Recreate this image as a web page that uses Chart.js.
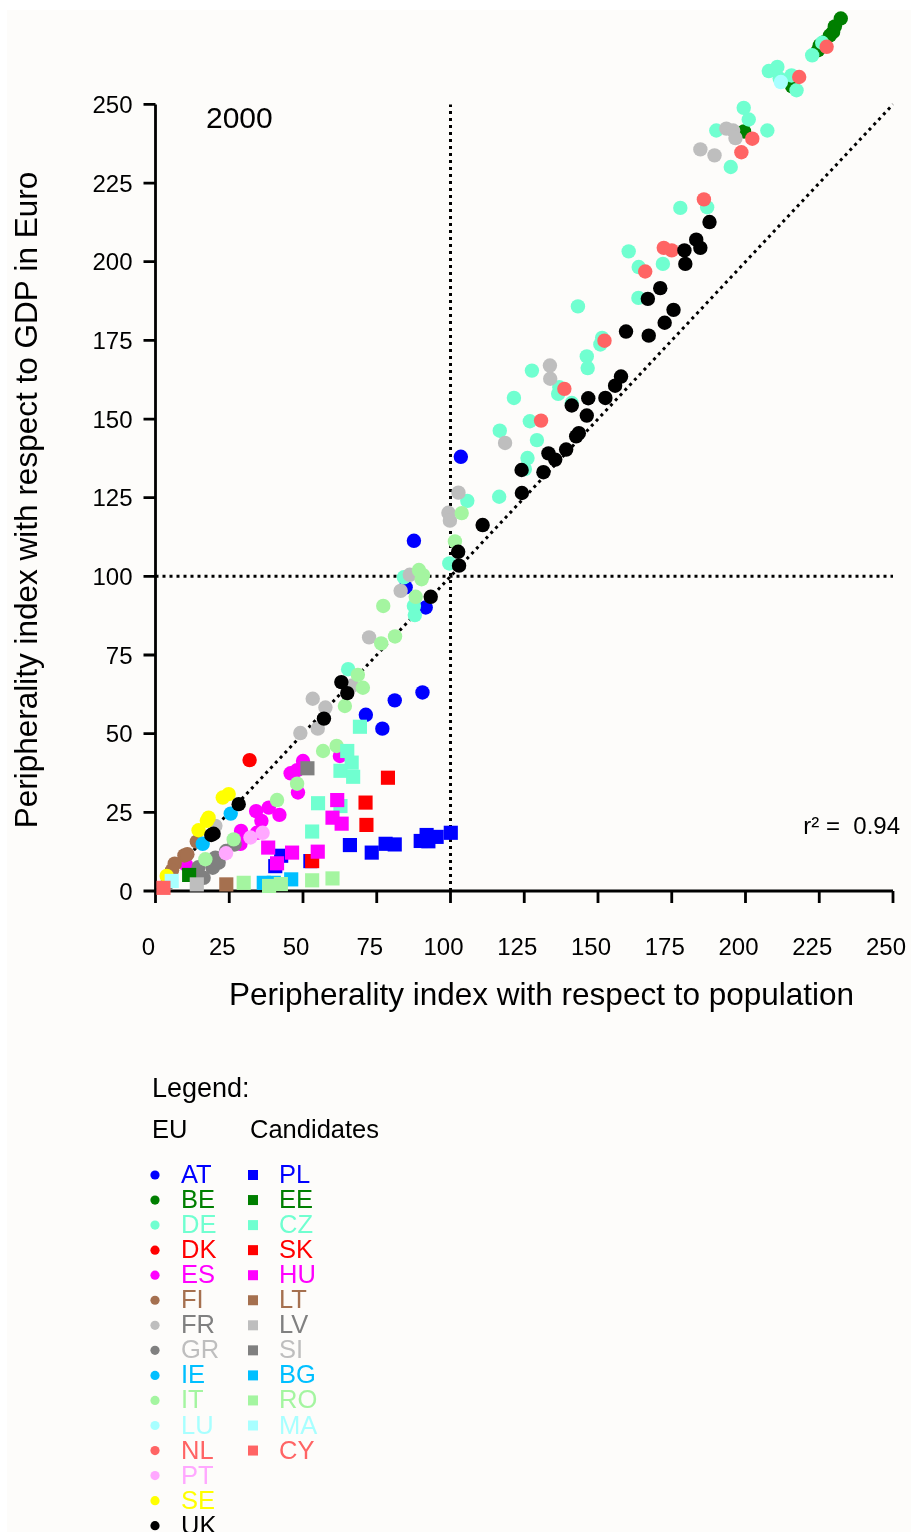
<!DOCTYPE html>
<html>
<head>
<meta charset="utf-8">
<script src="https://cdn.jsdelivr.net/npm/chart.js@4.4.0/dist/chart.umd.min.js"></script>
<style>
  html, body { margin: 0; padding: 0; background: #fff; }
  #wrap { position: absolute; left: 0; top: 0; width: 911px; height: 1532px; }
</style>
</head>
<body>
<div id="wrap"><canvas id="myChart" width="911" height="1532"></canvas></div>
<script>

// peripherality index: [population based, GDP based]
const AT = [[103.5,138.0],[87.6,111.3],[84.8,96.5],[91.6,90.1],[90.5,63.1],[81.1,60.6],[71.3,56.0],[76.9,51.6]];
const BE = [[232.3,277.3],[230.3,274.8],[229.7,273.0],[228.6,271.9],[226.7,269.8],[225.2,268.8],[224.6,267.2],[215.8,255.7],[199.5,241.4]];
const DE = [[99.6,104.1],[105.7,124.0],[84.2,99.7],[87.6,90.6],[87.9,87.7],[65.3,70.5],[116.5,125.3],[125.2,134.1],[126.1,137.6],[129.3,143.3],
  [116.7,146.3],[126.9,149.3],[141.1,155.1],[121.5,156.7],[136.5,158.0],[136.9,160.1],[127.6,165.4],[146.5,166.2],[146.2,169.9],[150.8,173.7],
  [151.4,175.8],[143.2,185.8],[163.7,188.5],[163.8,198.3],[172.0,199.3],[160.4,203.3],[177.9,217.1],[187.0,217.3],[195.0,230.1],[190.1,241.7],
  [207.4,241.7],[201.1,245.2],[199.4,248.9],[217.3,254.5],[211.6,258.2],[215.6,259.2],[207.9,260.6],[210.8,261.9],[222.6,265.6],[226.0,269.6]];
const DK = [[31.9,41.6]];
const ES = [[62.5,42.9],[50.0,41.3],[48.0,38.4],[45.8,37.4],[48.3,31.3],[42.0,24.2],[38.4,26.5],[35.9,22.3],[34.1,25.4],[34.4,18.5],
  [29.0,19.1],[28.8,15.0],[10.3,8.4]];
const FI = [[14.0,15.7],[9.8,11.3],[10.8,11.7],[6.5,8.7],[5.6,6.6]];
const FR = [[53.3,61.1],[57.6,58.3],[49.1,50.2],[55.0,51.6],[66.7,65.3],[20.3,20.7],[72.4,80.6],[83.1,95.4],[86.2,100.5],[99.3,120.2],
  [99.8,117.7],[102.7,126.6],[118.5,142.4],[133.8,162.8],[133.7,167.0],[184.7,235.7],[189.5,233.8],[193.5,242.3],[195.8,241.7],[196.6,239.3]];
const GR = [[26.8,14.8],[23.9,12.7],[20.3,10.6],[21.4,9.0],[19.4,7.4],[14.6,7.6],[14.0,5.8],[16.3,4.2],[3.8,2.1]];
const IE = [[25.5,24.6],[16.0,15.0]];
const IT = [[103.8,120.1],[101.5,111.1],[89.3,102.0],[90.7,100.4],[90.2,99.1],[88.2,93.5],[77.2,90.6],[81.2,80.9],[76.5,78.7],[68.6,68.7],
  [70.3,64.6],[64.2,58.8],[61.4,46.1],[56.8,44.5],[48.0,34.1],[41.2,28.9],[26.5,16.4],[16.9,10.1]];
const LU = [[212.0,257.1]];
const NL = [[130.7,149.5],[138.6,159.6],[152.2,174.9],[166.0,196.9],[172.3,204.4],[175.0,203.6],[185.9,219.8],[198.6,234.8],[202.3,239.1],
  [218.2,258.7],[227.5,268.3]];
const PT = [[32.2,17.0],[36.3,18.5],[23.9,12.0]];
const SE = [[24.8,30.8],[22.8,29.7],[18.0,23.3],[17.4,22.3],[14.6,19.3],[3.8,4.8]];
const UK = [[19.7,18.2],[18.9,17.8],[28.2,27.6],[57.1,54.8],[65.0,62.9],[63.0,66.4],[93.3,93.5],[102.9,103.4],[102.6,107.8],[110.9,116.3],
  [124.2,126.5],[131.5,133.1],[124.1,133.8],[135.5,137.1],[133.2,139.1],[139.2,140.3],[142.6,144.5],[143.5,145.5],[146.2,151.1],[141.1,154.3],
  [146.7,156.6],[152.5,156.7],[155.8,160.6],[157.8,163.5],[167.2,176.5],[159.5,177.8],[172.6,180.6],[175.6,184.7],[166.9,188.2],[171.1,191.6],
  [179.6,199.3],[179.3,203.6],[184.7,204.4],[183.3,207.0],[187.8,212.6]];

const PL = [[42.6,11.2],[40.6,7.9],[52.5,9.5],[65.9,14.6],[73.3,12.2],[78.0,15.0],[81.1,14.8],[89.9,15.9],[91.9,17.8],[92.5,15.8],
  [95.3,17.2],[100.1,18.5]];
const EE = [[11.4,5.1]];
const CZ = [[69.3,52.2],[65.0,44.5],[66.5,40.8],[62.7,38.2],[67.0,36.3],[62.7,27.0],[55.1,27.9],[53.1,18.9]];
const SK = [[78.8,36.0],[71.2,28.1],[71.5,21.0],[53.1,9.5]];
const HU = [[61.6,28.9],[60.0,23.3],[63.1,21.4],[38.2,13.8],[46.3,12.2],[55.0,12.5],[41.2,8.8]];
const LT = [[24.0,2.1]];
const LV = [[14.0,2.1]];
const SI = [[51.5,39.0]];
const BG = [[36.7,2.6],[40.1,2.6],[46.0,3.7]];
const RO = [[29.9,2.6],[38.5,1.6],[42.5,2.2],[53.1,3.4],[60.0,4.0]];
const MA = [[5.5,3.2]];
const CY = [[2.7,1.0]];

const euNames = ['AT','BE','DE','DK','ES','FI','FR','GR','IE','IT','LU','NL','PT','SE','UK'];
const euValues = [AT,BE,DE,DK,ES,FI,FR,GR,IE,IT,LU,NL,PT,SE,UK];
const euColours = ['#0000ff','#007f00','#70ffd0','#ff0000','#ff00ff','#a5704f','#bebebe','#808080','#00bfff','#a4f5a0','#a8ffff','#ff6464','#ffa8ff','#ffff00','#000000'];
const euTextColours = ['#0000ff','#007f00','#70ffd0','#ff0000','#ff00ff','#a5704f','#808080','#bebebe','#00bfff','#a4f5a0','#a8ffff','#ff6464','#ffa8ff','#ffff00','#000000'];

const candNames = ['PL','EE','CZ','SK','HU','LT','LV','SI','BG','RO','MA','CY'];
const candValues = [PL,EE,CZ,SK,HU,LT,LV,SI,BG,RO,MA,CY];
const candColours = ['#0000ff','#007f00','#70ffd0','#ff0000','#ff00ff','#a5704f','#bebebe','#808080','#00bfff','#a4f5a0','#a8ffff','#ff6464'];
const candTextColours = ['#0000ff','#007f00','#70ffd0','#ff0000','#ff00ff','#a5704f','#808080','#bebebe','#00bfff','#a4f5a0','#a8ffff','#ff6464'];

const xTicks = [0,25,50,75,100,125,150,175,200,225,250];
const yTicks = [0,25,50,75,100,125,150,175,200,225,250];

const FONT = '"Liberation Sans", Arial, sans-serif';

let datasets = [];
euNames.forEach(function (n, i) {
  datasets.push({
    label: n,
    data: euValues[i].map(function (p) { return { x: p[0], y: p[1] }; }),
    backgroundColor: euColours[i],
    pointStyle: 'circle',
    pointRadius: 7.2,
    borderWidth: 0,
    clip: false
  });
});
candNames.forEach(function (n, i) {
  datasets.push({
    label: n,
    data: candValues[i].map(function (p) { return { x: p[0], y: p[1] }; }),
    backgroundColor: candColours[i],
    pointStyle: 'rect',
    pointRadius: 10,
    borderWidth: 0,
    clip: false
  });
});
// later series sit on top
datasets.forEach(function (d, i) { d.order = datasets.length - i; });

const frame = {
  id: 'frame',
  beforeDraw(chart) {
    const ctx = chart.ctx;
    ctx.save();
    ctx.fillStyle = '#ffffff';
    ctx.fillRect(0, 0, chart.width, chart.height);
    ctx.fillStyle = '#fdfcfa';
    ctx.fillRect(7, 10, chart.width - 7, chart.height - 10);
    ctx.restore();
  },
  beforeDatasetsDraw(chart) {
    const ctx = chart.ctx;
    const x = chart.scales.x, y = chart.scales.y;
    const x0 = x.getPixelForValue(0), x1 = x.getPixelForValue(250), x100 = x.getPixelForValue(100);
    const y0 = y.getPixelForValue(0), y1 = y.getPixelForValue(250), y100 = y.getPixelForValue(100);
    ctx.save();
    ctx.strokeStyle = '#000';

    // dotted guides: y = x, x = 100, y = 100
    ctx.lineWidth = 3;
    ctx.setLineDash([3, 4]);
    ctx.beginPath();
    ctx.moveTo(x0, y0); ctx.lineTo(x1, y1);
    ctx.moveTo(x100, y0); ctx.lineTo(x100, y1);
    ctx.moveTo(x0, y100); ctx.lineTo(x1, y100);
    ctx.stroke();
    ctx.setLineDash([]);

    // axes with outward ticks
    ctx.lineWidth = 2.8;
    ctx.beginPath();
    ctx.moveTo(x0, y1); ctx.lineTo(x0, y0);
    ctx.moveTo(x0, y0); ctx.lineTo(x1, y0);
    yTicks.forEach(function (t) {
      const py = y.getPixelForValue(t);
      ctx.moveTo(x0 - 12, py); ctx.lineTo(x0, py);
    });
    xTicks.forEach(function (t) {
      const px = x.getPixelForValue(t);
      ctx.moveTo(px, y0); ctx.lineTo(px, y0 + 12);
    });
    ctx.stroke();

    ctx.fillStyle = '#000';
    ctx.font = '24px ' + FONT;
    ctx.textBaseline = 'middle';
    ctx.textAlign = 'right';
    yTicks.forEach(function (t) {
      ctx.fillText(String(t), x0 - 23, y.getPixelForValue(t) + 2);
    });
    ctx.textAlign = 'center';
    xTicks.forEach(function (t) {
      ctx.fillText(String(t), x.getPixelForValue(t) - 7, y0 + 57);
    });

    // titles
    ctx.font = '31.5px ' + FONT;
    ctx.fillText('Peripherality index with respect to population', 541.5, y0 + 105);
    ctx.save();
    ctx.translate(28, 500);
    ctx.rotate(-Math.PI / 2);
    ctx.fillText('Peripherality index with respect to GDP in Euro', 0, 0);
    ctx.restore();

    ctx.font = '30px ' + FONT;
    ctx.textAlign = 'left';
    ctx.fillText('2000', 206, 120);
    ctx.font = '24px ' + FONT;
    ctx.textAlign = 'right';
    ctx.fillText('r\u00b2 =  0.94', 900, 827);
    ctx.restore();
  },
  afterDraw(chart) {
    const ctx = chart.ctx;
    ctx.save();
    ctx.textBaseline = 'middle';
    ctx.textAlign = 'left';
    ctx.fillStyle = '#000';
    ctx.font = '27px ' + FONT;
    ctx.fillText('Legend:', 152, 1090);
    ctx.font = '25.5px ' + FONT;
    ctx.fillText('EU', 152, 1131);
    ctx.fillText('Candidates', 250, 1131);

    const top = 1175, step = 25.05;
    euNames.forEach(function (n, i) {
      const cy = top + i * step;
      ctx.fillStyle = euColours[i];
      ctx.beginPath();
      ctx.arc(155, cy, 4.6, 0, Math.PI * 2);
      ctx.fill();
      ctx.fillStyle = euTextColours[i];
      ctx.fillText(n, 181, cy + 1);
    });
    candNames.forEach(function (n, i) {
      const cy = top + i * step;
      ctx.fillStyle = candColours[i];
      ctx.fillRect(248, cy - 5, 10, 10);
      ctx.fillStyle = candTextColours[i];
      ctx.fillText(n, 279, cy + 1);
    });
    ctx.restore();
  }
};

let myChart = document.getElementById('myChart').getContext('2d');

let periChart = new Chart(myChart, {
  type: 'scatter',
  data: { datasets: datasets },
  options: {
    responsive: false,
    animation: false,
    devicePixelRatio: 1,
    events: [],
    layout: { padding: { left: 155.5, right: 18, top: 9.6, bottom: 641 } },
    plugins: { legend: { display: false }, tooltip: { enabled: false } },
    scales: {
      x: { type: 'linear', min: 0, max: 250, display: false },
      y: { type: 'linear', min: 0, max: 280, display: false }
    }
  },
  plugins: [frame]
});

</script>
</body>
</html>
